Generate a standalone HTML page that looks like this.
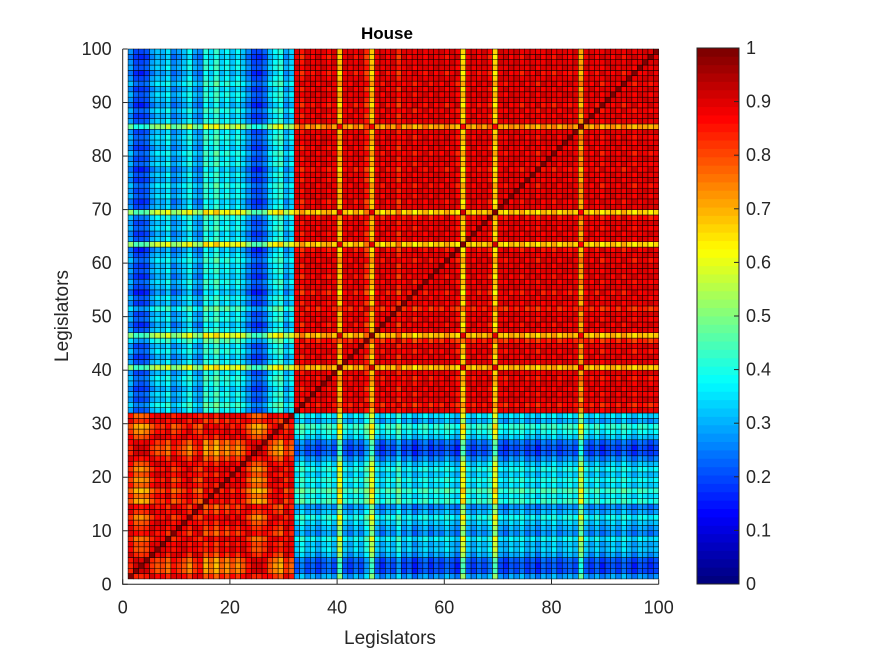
<!DOCTYPE html>
<html><head><meta charset="utf-8"><title>House</title>
<style>
body{margin:0;background:#fff;}
svg text{font-family:"Liberation Sans",Arial,sans-serif;fill:#262626;}
</style></head>
<body>
<svg id="chart" width="875" height="656" xmlns="http://www.w3.org/2000/svg">
<rect width="875" height="656" fill="#fff"/>
<g id="cells"></g>
<g id="axes"></g>
<g id="cbar"></g>
<text x="387" y="39" text-anchor="middle" font-size="17" font-weight="bold" style="fill:#000">House</text>
<text x="390" y="644" text-anchor="middle" font-size="19">Legislators</text>
<text transform="translate(68,316) rotate(-90)" text-anchor="middle" font-size="19">Legislators</text>
</svg>
<script>
// Estimated per-legislator ideological positions (0 = one party extreme, 1 = the other)
const groupAPositions = [0.14,0.05,0.04,0.06,0.15,0.2,0.18,0.24,0.12,0.16,0.2,0.26,0.16,0.12,0.3,0.24,0.32,0.22,0.27,0.2,0.26,0.2,0.12,0.05,0.04,0.08,0.2,0.26,0.3,0.16,0.22];
const groupBPositions = [0.88,0.82,0.9,0.86,0.92,0.87,0.84,0.9,0.62,0.88,0.92,0.85,0.9,0.8,0.62,0.88,0.93,0.86,0.9,0.8,0.92,0.87,0.95,0.9,0.86,0.93,0.88,0.91,0.85,0.9,0.94,0.6,0.88,0.92,0.86,0.9,0.84,0.6,0.9,0.93,0.87,0.9,0.85,0.92,0.88,0.94,0.86,0.9,0.85,0.92,0.88,0.86,0.9,0.66,0.88,0.92,0.86,0.94,0.9,0.87,0.92,0.85,0.9,0.94,0.88,0.9,0.93,0.9,0.91];
const baseAgreement = [0.92];
const distanceWeight = [0.85];
const xTickLabels = [0,20,40,60,80,100];
const yTickLabels = [0,10,20,30,40,50,60,70,80,90,100];
const cbarTickLabels = [0,0.1,0.2,0.3,0.4,0.5,0.6,0.7,0.8,0.9,1];

const positions = groupAPositions.concat(groupBPositions);
const NS = "http://www.w3.org/2000/svg";
const X0 = 122.7, XS = 5.36, Y0 = 584.3, YS = 5.353;
function xScale(v){ return X0 + v*XS; }
function yScale(v){ return Y0 - v*YS; }
function jet(t){
  t = Math.max(0, Math.min(1, t));
  t = Math.min(63, Math.floor(t*64)) / 63;
  const c = x => Math.round(255*Math.max(0, Math.min(1, x)));
  return `rgb(${c(1.5-Math.abs(4*t-3))},${c(1.5-Math.abs(4*t-2))},${c(1.5-Math.abs(4*t-1))})`;
}
function mk(tag, attrs, parent){
  const e = document.createElementNS(NS, tag);
  for (const k in attrs) e.setAttribute(k, attrs[k]);
  parent.appendChild(e); return e;
}
const cells = document.getElementById('cells');
const n = positions.length;
for (let i = 0; i < n - 1; i++) {
  for (let j = 0; j < n - 1; j++) {
    const v = (i === j) ? 1 : baseAgreement[0] - distanceWeight[0]*Math.abs(positions[i] - positions[j]);
    const r = mk('rect', {x: xScale(i+1), y: yScale(j+2), width: XS, height: YS, fill: jet(v), stroke: '#000', 'stroke-width': 0.5}, cells);
    
    
  }
}
const axes = document.getElementById('axes');
const box = mk('path', {d: `M${X0},${yScale(100)} V${Y0} H${xScale(100)}`, fill: 'none', stroke: '#262626', 'stroke-width': 1}, axes);


xTickLabels.forEach(v => {
  const x = xScale(v);
  const t = mk('line', {x1: x, x2: x, y1: Y0, y2: Y0-5, stroke: '#262626'}, axes);
  
  
  const l = mk('text', {x: x, y: Y0+29, 'text-anchor': 'middle', 'font-size': 18}, axes);
  l.textContent = v;
  
  
});
yTickLabels.forEach(v => {
  const y = yScale(v);
  const t = mk('line', {x1: X0, x2: X0+5, y1: y, y2: y, stroke: '#262626'}, axes);
  
  
  const l = mk('text', {x: X0-11, y: y+6, 'text-anchor': 'end', 'font-size': 18}, axes);
  l.textContent = v;
  
  
});
const cbar = document.getElementById('cbar');
const CX = 697, CW = 42, CT = 48, CB = 584;
const cs = v => CB - v*(CB-CT);
for (let k = 0; k < 64; k++) {
  const r = mk('rect', {x: CX, y: cs((k+1)/64), width: CW, height: (CB-CT)/64 + 0.4, fill: jet((k+0.5)/64)}, cbar);
  
  
}
const cbox = mk('rect', {x: CX, y: CT, width: CW, height: CB-CT, fill: 'none', stroke: '#262626', 'stroke-width': 1}, cbar);


cbarTickLabels.forEach(v => {
  const y = cs(v);
  const t = mk('line', {x1: CX+CW-5, x2: CX+CW, y1: y, y2: y, stroke: '#262626'}, cbar);
  
  
  const l = mk('text', {x: CX+CW+7, y: y+6, 'font-size': 18}, cbar);
  l.textContent = v;
  
  
});
</script>
</body></html>
